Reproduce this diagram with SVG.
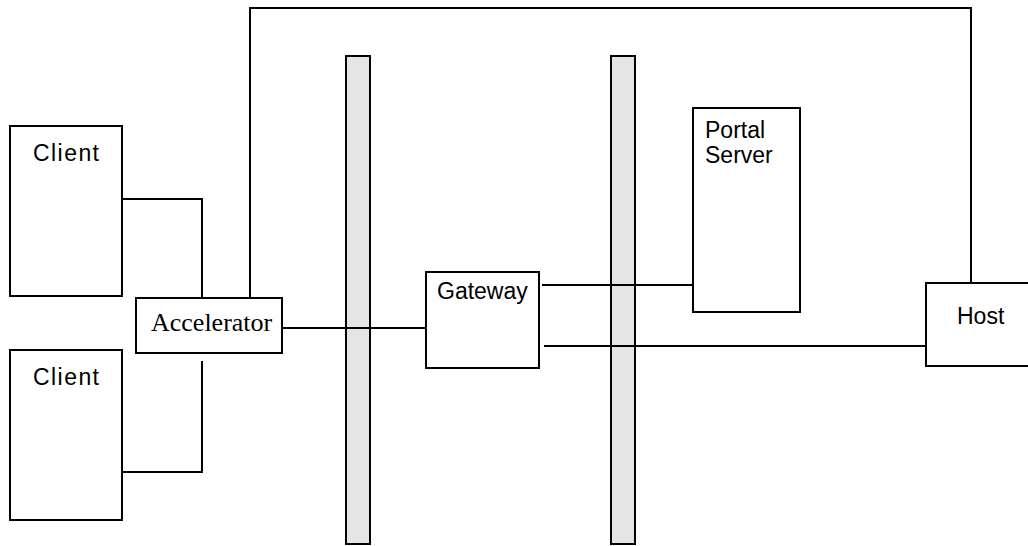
<svg xmlns="http://www.w3.org/2000/svg" width="1028" height="546" viewBox="0 0 1028 546">
<style>
.box{fill:#fff;stroke:#000;stroke-width:2}
.bar{fill:#e5e5e5;stroke:#000;stroke-width:2}
.ln{fill:none;stroke:#000;stroke-width:2}
.s{font-family:"Liberation Sans",Arial,sans-serif;font-size:23px;fill:#000}
.t{font-family:"Liberation Serif","Times New Roman",serif;font-size:26px;fill:#000}
</style>
<rect width="1028" height="546" fill="#fff"/>
<g id="firewall1"><rect class="bar" x="346" y="56" width="24" height="488"/></g>
<g id="firewall2"><rect class="bar" x="611" y="56" width="24" height="488"/></g>
<g id="connectors">
<polyline class="ln" points="122,199 202,199 202,300"/>
<polyline class="ln" points="202,361 202,472 122,472"/>
<polyline class="ln" points="250,300 250,8 971,8 971,283"/>
<line class="ln" x1="282" y1="328" x2="426" y2="328"/>
<line class="ln" x1="542" y1="285" x2="696" y2="285"/>
<line class="ln" x1="544" y1="346" x2="927" y2="346"/>
</g>
<g id="client1"><rect class="box" x="10" y="126" width="112" height="170"/><text class="s" x="33" y="161" textLength="66" lengthAdjust="spacing">Client</text></g>
<g id="client2"><rect class="box" x="10" y="350" width="112" height="170"/><text class="s" x="33" y="385" textLength="66" lengthAdjust="spacing">Client</text></g>
<g id="accelerator"><rect class="box" x="136" y="298" width="146" height="55"/><text class="t" x="151" y="331">Accelerator</text></g>
<g id="gateway"><rect class="box" x="426" y="272" width="113" height="96"/><text class="s" x="437" y="299">Gateway</text></g>
<g id="portal"><rect class="box" x="693" y="108" width="107" height="204"/><text class="s" x="705" y="138">Portal</text><text class="s" x="705" y="163">Server</text></g>
<g id="host"><rect class="box" x="926" y="283" width="110" height="83"/><text class="s" x="957" y="324">Host</text></g>
</svg>
